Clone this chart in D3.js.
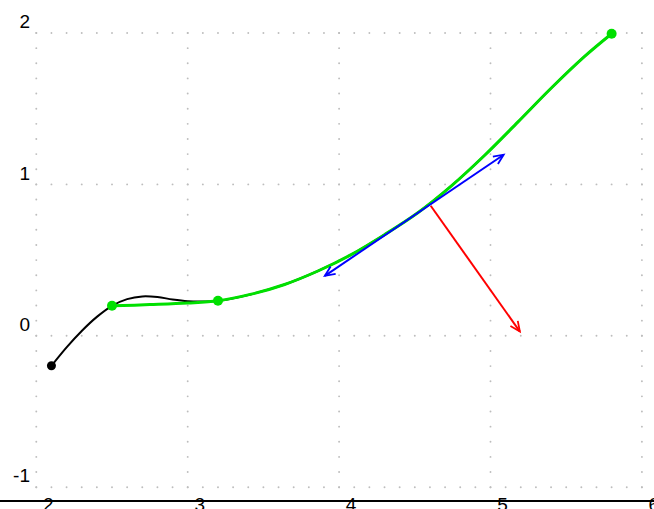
<!DOCTYPE html>
<html>
<head>
<meta charset="utf-8">
<script src="https://cdn.jsdelivr.net/npm/d3@7"></script>
<style>
  html, body { margin: 0; padding: 0; background: #fff; }
  svg { display: block; }
  text { font-family: "Liberation Sans", Arial, sans-serif; font-size: 19px; fill: #000; }
</style>
</head>
<body>
<svg id="chart" width="654" height="509"></svg>
<script>
// ---- data ----
const xTicks = [2, 3, 4, 5, 6];
const yTicks = [2, 1, 0, -1];

// black spline through the points
const blackX = [2.10, 2.20, 2.30, 2.40, 2.50, 2.60, 2.70, 2.80, 2.90, 3.00, 3.10, 3.20, 3.42, 3.64, 3.86, 4.08, 4.30, 4.52, 4.74, 4.96, 5.18, 5.40, 5.62, 5.80];
const blackY = [-0.198, -0.076, 0.032, 0.125, 0.198, 0.242, 0.260, 0.256, 0.240, 0.229, 0.227, 0.231, 0.275, 0.339, 0.428, 0.536, 0.668, 0.813, 0.989, 1.191, 1.411, 1.635, 1.844, 1.995];

// green curve
const greenX = [2.50, 2.75, 3.00, 3.20, 3.42, 3.64, 3.86, 4.08, 4.30, 4.52, 4.74, 4.96, 5.18, 5.40, 5.62, 5.80];
const greenY = [0.198, 0.206, 0.216, 0.231, 0.275, 0.339, 0.428, 0.536, 0.668, 0.813, 0.989, 1.191, 1.411, 1.635, 1.844, 1.995];

// points
const blackPointX = [2.10];
const blackPointY = [-0.198];
const greenPointX = [2.50, 3.20, 5.80];
const greenPointY = [0.198, 0.231, 1.995];

// tangent / normal vectors at the point T
const tangentBase = [4.605, 0.859];
const tangentEnds = [[5.087, 1.196], [3.906, 0.396]];
const normalEnd = [5.194, 0.028];

// ---- drawing ----
const svg = d3.select("#chart");
const W = 654, H = 509;

const x = d3.scaleLinear().domain([2, 6]).range([36.3, 641.9]);
const y = d3.scaleLinear().domain([-1, 2]).range([487.2, 33.0]);

// dotted grid (dots every 0.1 unit)
const grid = svg.append("g").attr("fill", "#bdbdbd");
yTicks.forEach(v => {
  d3.range(0, 41).forEach(i => {
    grid.append("circle").attr("cx", x(2 + i * 0.1)).attr("cy", y(v)).attr("r", 0.95);
  });
});
xTicks.forEach(v => {
  d3.range(0, 31).forEach(i => {
    grid.append("circle").attr("cx", x(v)).attr("cy", y(-1 + i * 0.1)).attr("r", 0.95);
  });
});

// axis line at the bottom
svg.append("line")
  .attr("x1", 0).attr("x2", W)
  .attr("y1", 501).attr("y2", 501)
  .attr("stroke", "#000").attr("stroke-width", 2.2);

// tick labels
svg.append("g").selectAll("text").data(xTicks).join("text")
  .attr("x", d => x(d) + 12)
  .attr("y", 511)
  .attr("text-anchor", "middle")
  .text(d => d);

svg.append("g").selectAll("text").data(yTicks).join("text")
  .attr("x", 30)
  .attr("y", d => y(d) - 4.8)
  .attr("text-anchor", "end")
  .text(d => d);

// arrow markers
const defs = svg.append("defs");
function marker(id, color, reverse) {
  defs.append("marker")
    .attr("id", id)
    .attr("viewBox", "-12 -6 24 12")
    .attr("refX", 0).attr("refY", 0)
    .attr("markerWidth", 24).attr("markerHeight", 12)
    .attr("markerUnits", "userSpaceOnUse")
    .attr("orient", "auto")
    .append("path")
    .attr("d", reverse ? "M10,-4.5 L0,0 L10,4.5" : "M-10,-4.5 L0,0 L-10,4.5")
    .attr("fill", "none")
    .attr("stroke", color)
    .attr("stroke-width", 1.8);
}
marker("arrBlue", "#0000ff", false);
marker("arrBlueS", "#0000ff", true);
marker("arrRed", "#ff0000", false);

const line = d3.line().x(d => x(d[0])).y(d => y(d[1])).curve(d3.curveCatmullRom.alpha(0.5));

// black curve
svg.append("path")
  .datum(blackX.map((v, i) => [v, blackY[i]]))
  .attr("d", line)
  .attr("fill", "none")
  .attr("stroke", "#000")
  .attr("stroke-width", 2);

// green curve
svg.append("path")
  .datum(greenX.map((v, i) => [v, greenY[i]]))
  .attr("d", line)
  .attr("fill", "none")
  .attr("stroke", "#00e000")
  .attr("stroke-width", 3);

// normal (red)
svg.append("line")
  .attr("x1", x(tangentBase[0])).attr("y1", y(tangentBase[1]))
  .attr("x2", x(normalEnd[0])).attr("y2", y(normalEnd[1]))
  .attr("stroke", "#ff0000").attr("stroke-width", 2)
  .attr("marker-end", "url(#arrRed)");

// tangent (blue, double arrow)
svg.append("line")
  .attr("x1", x(tangentEnds[1][0])).attr("y1", y(tangentEnds[1][1]))
  .attr("x2", x(tangentEnds[0][0])).attr("y2", y(tangentEnds[0][1]))
  .attr("stroke", "#0000ff").attr("stroke-width", 2)
  .attr("marker-start", "url(#arrBlueS)")
  .attr("marker-end", "url(#arrBlue)");

// points
svg.append("g").selectAll("circle").data(blackPointX).join("circle")
  .attr("cx", d => x(d)).attr("cy", (d, i) => y(blackPointY[i]))
  .attr("r", 4.5).attr("fill", "#000");

svg.append("g").selectAll("circle").data(greenPointX).join("circle")
  .attr("cx", d => x(d)).attr("cy", (d, i) => y(greenPointY[i]))
  .attr("r", 5).attr("fill", "#00e000");
</script>
</body>
</html>
